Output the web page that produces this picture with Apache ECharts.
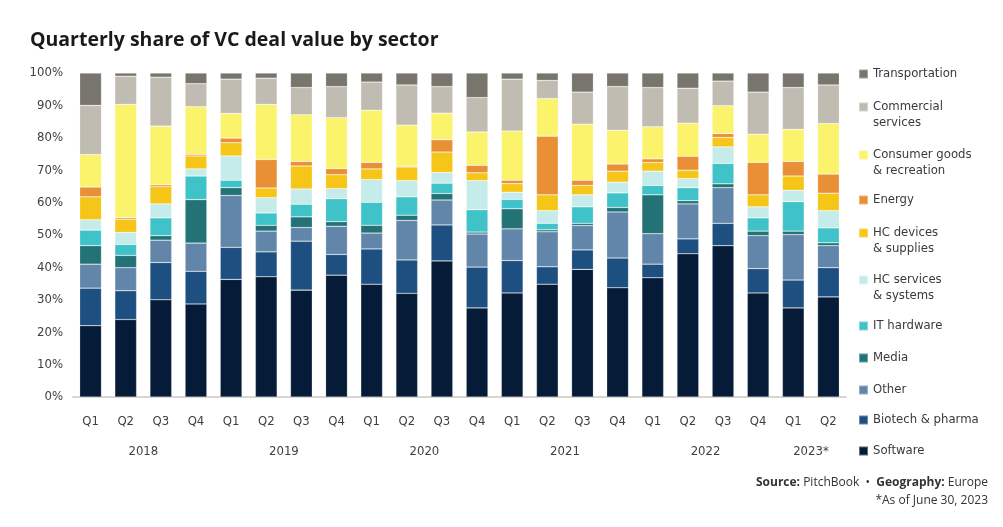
<!DOCTYPE html>
<html>
<head>
<meta charset="utf-8">
<script src="https://cdn.jsdelivr.net/npm/echarts@6/dist/echarts.min.js"></script>
<style>
  html, body { margin: 0; padding: 0; background: #fff; }
  #chart { width: 1003px; height: 527px; }
</style>
</head>
<body>
<div id="chart"></div>
<script>
// quarter labels and the year shown under each group
const quarters = ['Q1', 'Q2', 'Q3', 'Q4', 'Q1', 'Q2', 'Q3', 'Q4', 'Q1', 'Q2', 'Q3', 'Q4',
  'Q1', 'Q2', 'Q3', 'Q4', 'Q1', 'Q2', 'Q3', 'Q4', 'Q1', 'Q2'];
const yearLabels = ['', '', '2018', '', '', '', '2019', '', '', '', '2020', '',
  '', '', '2021', '', '', '', '2022', '', '', '2023*'];

// share of deal value (%) by sector, 2018 Q1 .. 2023 Q2
const software = [22.0, 23.9, 30.0, 28.7, 36.3, 37.1, 33.0, 37.6, 34.8, 32.0, 42.0, 27.5, 32.1, 34.8, 39.4, 33.7, 36.8, 44.2, 46.7, 32.1, 27.5, 30.9];
const biotech = [11.6, 8.9, 11.5, 10.1, 9.9, 7.7, 15.1, 6.4, 10.9, 10.3, 11.1, 12.6, 10.0, 5.4, 6.0, 9.2, 4.2, 4.6, 6.9, 7.5, 8.6, 9.0];
const other = [7.4, 7.1, 6.9, 8.7, 16.0, 6.4, 4.2, 8.7, 4.9, 12.2, 7.7, 10.2, 9.8, 10.8, 7.5, 14.2, 9.4, 10.8, 11.0, 10.2, 14.0, 6.8];
const media = [5.7, 3.8, 1.4, 13.4, 2.4, 1.8, 3.3, 1.4, 2.4, 1.6, 2.0, 0.6, 6.2, 0.6, 0.7, 1.4, 12.0, 1.0, 1.2, 1.4, 1.1, 0.9];
const itHardware = [4.8, 3.4, 5.5, 7.3, 2.3, 3.8, 3.9, 7.1, 7.1, 5.7, 3.2, 6.9, 2.9, 2.0, 5.1, 4.5, 2.9, 4.0, 6.3, 4.1, 9.1, 4.6];
const hcServices = [3.2, 3.7, 4.3, 2.2, 7.5, 4.7, 4.7, 3.1, 7.0, 5.0, 3.3, 9.0, 2.2, 3.9, 3.7, 3.3, 4.4, 2.8, 5.1, 3.4, 3.5, 5.3];
const hcDevices = [7.1, 4.0, 5.3, 4.0, 4.1, 3.0, 7.1, 4.3, 3.3, 4.2, 6.3, 2.4, 2.7, 4.9, 2.9, 3.4, 2.7, 2.6, 2.9, 3.7, 4.4, 5.4];
const energy = [3.0, 0.5, 0.6, 0.5, 1.4, 8.8, 1.4, 1.9, 2.0, 0.3, 3.8, 2.3, 1.0, 18.1, 1.6, 2.2, 1.1, 4.3, 1.2, 10.0, 4.5, 5.9];
const consumer = [10.0, 35.0, 18.1, 14.7, 7.6, 17.0, 14.4, 15.7, 16.1, 12.6, 8.2, 10.3, 15.2, 11.6, 17.3, 10.4, 9.9, 10.2, 8.6, 8.7, 9.9, 15.6];
const commercial = [15.2, 8.7, 15.1, 7.1, 10.6, 8.1, 8.4, 9.6, 8.7, 12.4, 8.2, 10.6, 16.0, 5.6, 9.9, 13.5, 12.1, 10.8, 7.6, 13.0, 12.9, 11.9];
const transportation = [10.0, 1.0, 1.3, 3.3, 1.9, 1.6, 4.5, 4.2, 2.8, 3.7, 4.2, 7.6, 1.9, 2.3, 5.9, 4.2, 4.5, 4.7, 2.5, 5.9, 4.5, 3.7];

const yTicks = [0, 10, 20, 30, 40, 50, 60, 70, 80, 90, 100];

const FONT = "'Liberation Sans Narrow', 'DejaVu Sans Condensed', Roboto, sans-serif";

// bottom to top; label = how the legend breaks the name
const sectors = [
  { name: 'Software', data: software, color: '#061b37', legendY: 451 },
  { name: 'Biotech & pharma', data: biotech, color: '#1d4f80', legendY: 420 },
  { name: 'Other', data: other, color: '#6286aa', legendY: 390 },
  { name: 'Media', data: media, color: '#237275', legendY: 358 },
  { name: 'IT hardware', data: itHardware, color: '#3fc3c9', legendY: 326 },
  { name: 'HC services & systems', label: 'HC services\n& systems', data: hcServices, color: '#c5ecea', legendY: 280 },
  { name: 'HC devices & supplies', label: 'HC devices\n& supplies', data: hcDevices, color: '#f5c517', legendY: 233 },
  { name: 'Energy', data: energy, color: '#e98f35', legendY: 200 },
  { name: 'Consumer goods & recreation', label: 'Consumer goods\n& recreation', data: consumer, color: '#fbf36b', legendY: 155 },
  { name: 'Commercial services', label: 'Commercial\nservices', data: commercial, color: '#c0bcb2', legendY: 107 },
  { name: 'Transportation', data: transportation, color: '#78756d', legendY: 74 }
];

const chart = echarts.init(document.getElementById('chart'));

// one legend per entry so two-line names can hang under their swatch
const legends = sectors.map(s => ({
  orient: 'vertical',
  left: 858,
  top: s.label ? s.legendY - 24 : s.legendY - 8,
  padding: 0,
  itemWidth: 9,
  itemHeight: 9,
  icon: 'rect',
  selectedMode: false,
  // a blank first line keeps the swatch level with the first text line
  formatter: () => (s.label ? ' \n' + s.label : s.name),
  textStyle: { fontFamily: FONT, fontSize: 13, color: '#3a3a3a', lineHeight: 16 },
  data: [s.name]
}));

chart.setOption({
  backgroundColor: '#fff',
  animation: false,
  title: {
    text: 'Quarterly share of VC deal value by sector',
    left: 30,
    top: 30,
    padding: 0,
    textStyle: { fontFamily: "'Open Sans', sans-serif", fontSize: 19.5, fontWeight: 'bold', color: '#1a1a1a' }
  },
  legend: legends,
  grid: { left: 73, right: 157, top: 73, bottom: 130 },
  xAxis: [
    {
      type: 'category',
      data: quarters,
      axisLine: { lineStyle: { color: '#d8d6d2', width: 2 } },
      axisTick: { show: false },
      axisLabel: { interval: 0, margin: 18, fontFamily: FONT, fontSize: 13, color: '#404040' }
    },
    {
      type: 'category',
      position: 'bottom',
      data: yearLabels,
      axisLine: { show: false },
      axisTick: { show: false },
      axisLabel: {
        interval: 0, margin: 48, fontFamily: FONT, fontSize: 13, color: '#404040',
        padding: [0, 35, 0, 0]
      }
    }
  ],
  yAxis: {
    type: 'value',
    min: yTicks[0],
    max: yTicks[yTicks.length - 1],
    interval: 10,
    axisLine: { show: false },
    axisTick: { show: false },
    splitLine: { show: false },
    axisLabel: { margin: 10, fontFamily: FONT, fontSize: 13, color: '#404040', formatter: '{value}%' }
  },
  series: sectors.map(s => ({
    name: s.name,
    type: 'bar',
    stack: 'share',
    barWidth: '62%',
    data: s.data,
    itemStyle: { color: s.color, borderColor: 'rgba(255,255,255,0.35)', borderWidth: 0.6 }
  })),
  graphic: [
    {
      type: 'text',
      right: 15,
      top: 477,
      style: {
        text: '{b|Source:} PitchBook  •  {b|Geography:} Europe',
        font: "12px 'Open Sans', sans-serif",
        fill: '#333',
        rich: { b: { fontWeight: 'bold', fontFamily: 'Open Sans', fontSize: 12, fill: '#333' } }
      }
    },
    {
      type: 'text',
      right: 15,
      top: 495,
      style: { text: '*As of June 30, 2023', font: "12px 'Open Sans', sans-serif", fill: '#333' }
    }
  ]
});
</script>
</body>
</html>
